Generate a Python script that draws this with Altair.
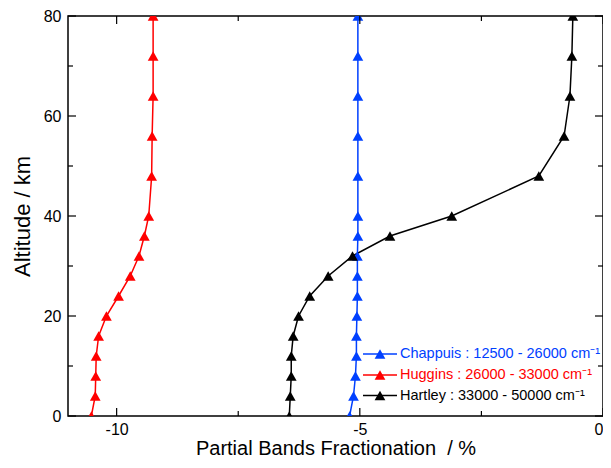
import altair as alt
import pandas as pd

altitude = [0, 4, 8, 12, 16, 20, 24, 28, 32, 36, 40, 48, 56, 64, 72, 80]
chappuis = [-5.21, -5.13, -5.09, -5.07, -5.07, -5.06, -5.05, -5.05, -5.05, -5.04, -5.04, -5.04, -5.04, -5.04, -5.04, -5.04]
huggins = [-10.52, -10.44, -10.43, -10.42, -10.37, -10.21, -9.96, -9.72, -9.54, -9.43, -9.34, -9.28, -9.27, -9.25, -9.25, -9.25]
hartley = [-6.45, -6.43, -6.41, -6.41, -6.37, -6.26, -6.03, -5.65, -5.15, -4.38, -3.11, -1.32, -0.80, -0.68, -0.64, -0.62]
series = ["Chappuis : 12500 - 26000 cm\u207b\u00b9",
          "Huggins : 26000 - 33000 cm\u207b\u00b9",
          "Hartley : 33000 - 50000 cm\u207b\u00b9"]
colors = ["#0040ff", "#ff0000", "#000000"]
x_major = [-10, -5, 0]
x_minor = [-7.5, -2.5]
y_major = [0, 20, 40, 60, 80]
y_minor = [10, 30, 50, 70]

rows = []
for name, vals in zip(series, [chappuis, huggins, hartley]):
    for a, v in zip(altitude, vals):
        rows.append({"band": name, "altitude": a, "value": v})
df = pd.DataFrame(rows)

W, H = 535, 400
PAD_L, PAD_T = 60, 8
FONT = "Liberation Sans"
MS = 115
xscale = alt.Scale(domain=[-11, 0], nice=False, zero=False)
yscale = alt.Scale(domain=[0, 80], nice=False, zero=False)
color = alt.Color("band:N", scale=alt.Scale(domain=series, range=colors), legend=None)

x_axis = alt.Axis(title="Partial Bands Fractionation\u00a0 / %", values=x_major,
                  labelExpr="'' + datum.value", labelPadding=5,
                  titleFontSize=20, titleBaseline="alphabetic", titleY=38)
y_axis = alt.Axis(title="Altitude / km", values=y_major, labelPadding=7,
                  titleFontSize=22, titleBaseline="alphabetic", titleAngle=270,
                  titleX=-38.5, titleAlign="center")

base = alt.Chart(df)
lines = base.mark_line(strokeWidth=1.5, clip=True).encode(
    x=alt.X("value:Q", scale=xscale, axis=x_axis),
    y=alt.Y("altitude:Q", scale=yscale, axis=y_axis),
    color=color, order="altitude:Q")
points = base.mark_point(shape="triangle-up", filled=True, size=MS, opacity=1, clip=True).encode(
    x=alt.X("value:Q", scale=xscale, axis=x_axis),
    y=alt.Y("altitude:Q", scale=yscale, axis=y_axis),
    color=color)


def xticks(vals, length, side):
    c = alt.Chart(pd.DataFrame({"v": vals})).mark_rule(color="black", strokeWidth=1.2)
    xe = alt.X("v:Q", scale=xscale, axis=x_axis)
    if side == "bottom":
        return c.encode(x=xe, y=alt.value(H), y2=alt.value(H - length))
    return c.encode(x=xe, y=alt.value(0), y2=alt.value(length))


def yticks(vals, length, side):
    c = alt.Chart(pd.DataFrame({"v": vals})).mark_rule(color="black", strokeWidth=1.2)
    ye = alt.Y("v:Q", scale=yscale, axis=y_axis)
    if side == "left":
        return c.encode(y=ye, x=alt.value(0), x2=alt.value(length))
    return c.encode(y=ye, x=alt.value(W), x2=alt.value(W - length))


tick_layers = [
    xticks(x_major, 8, "bottom"), xticks(x_minor, 5, "bottom"),
    xticks(x_major, 8, "top"), xticks(x_minor, 5, "top"),
    yticks(y_major, 8, "left"), yticks(y_minor, 5, "left"),
    yticks(y_major, 8, "right"), yticks(y_minor, 5, "right"),
]

# custom legend (page rows at y = 354, 375, 395.7)
leg_y = [354 - 8 - PAD_T, 375 - 8 - PAD_T, 395.5 - 8 - PAD_T]
leg_layers = []
for name, col, ly in zip(series, colors, leg_y):
    one = alt.Chart(pd.DataFrame({"band": [name]}))
    leg_layers.append(one.mark_rule(color=col, strokeWidth=1.5).encode(
        x=alt.value(295), x2=alt.value(329), y=alt.value(ly)))
    leg_layers.append(one.mark_point(shape="triangle-up", filled=True, size=MS, opacity=1, color=col).encode(
        x=alt.value(312), y=alt.value(ly)))
    leg_layers.append(one.mark_text(align="left", baseline="middle", font=FONT, fontSize=14.5, color=col).encode(
        x=alt.value(332), y=alt.value(ly), text="band:N"))

chart = alt.layer(lines, points, *tick_layers, *leg_layers).properties(
    width=W, height=H,
    autosize=alt.AutoSizeParams(type="none"),
    padding={"left": PAD_L, "top": PAD_T, "right": 0, "bottom": 452 - PAD_T - H},
).configure_view(
    stroke="black", strokeWidth=1.5
).configure_axis(
    grid=False, domain=False, ticks=False,
    labelFont=FONT, labelFontSize=16, labelColor="black",
    titleFont=FONT, titleFontWeight="normal", titleColor="black",
)

chart.save("out.html", embed_options={"renderer": "svg", "actions": False})
